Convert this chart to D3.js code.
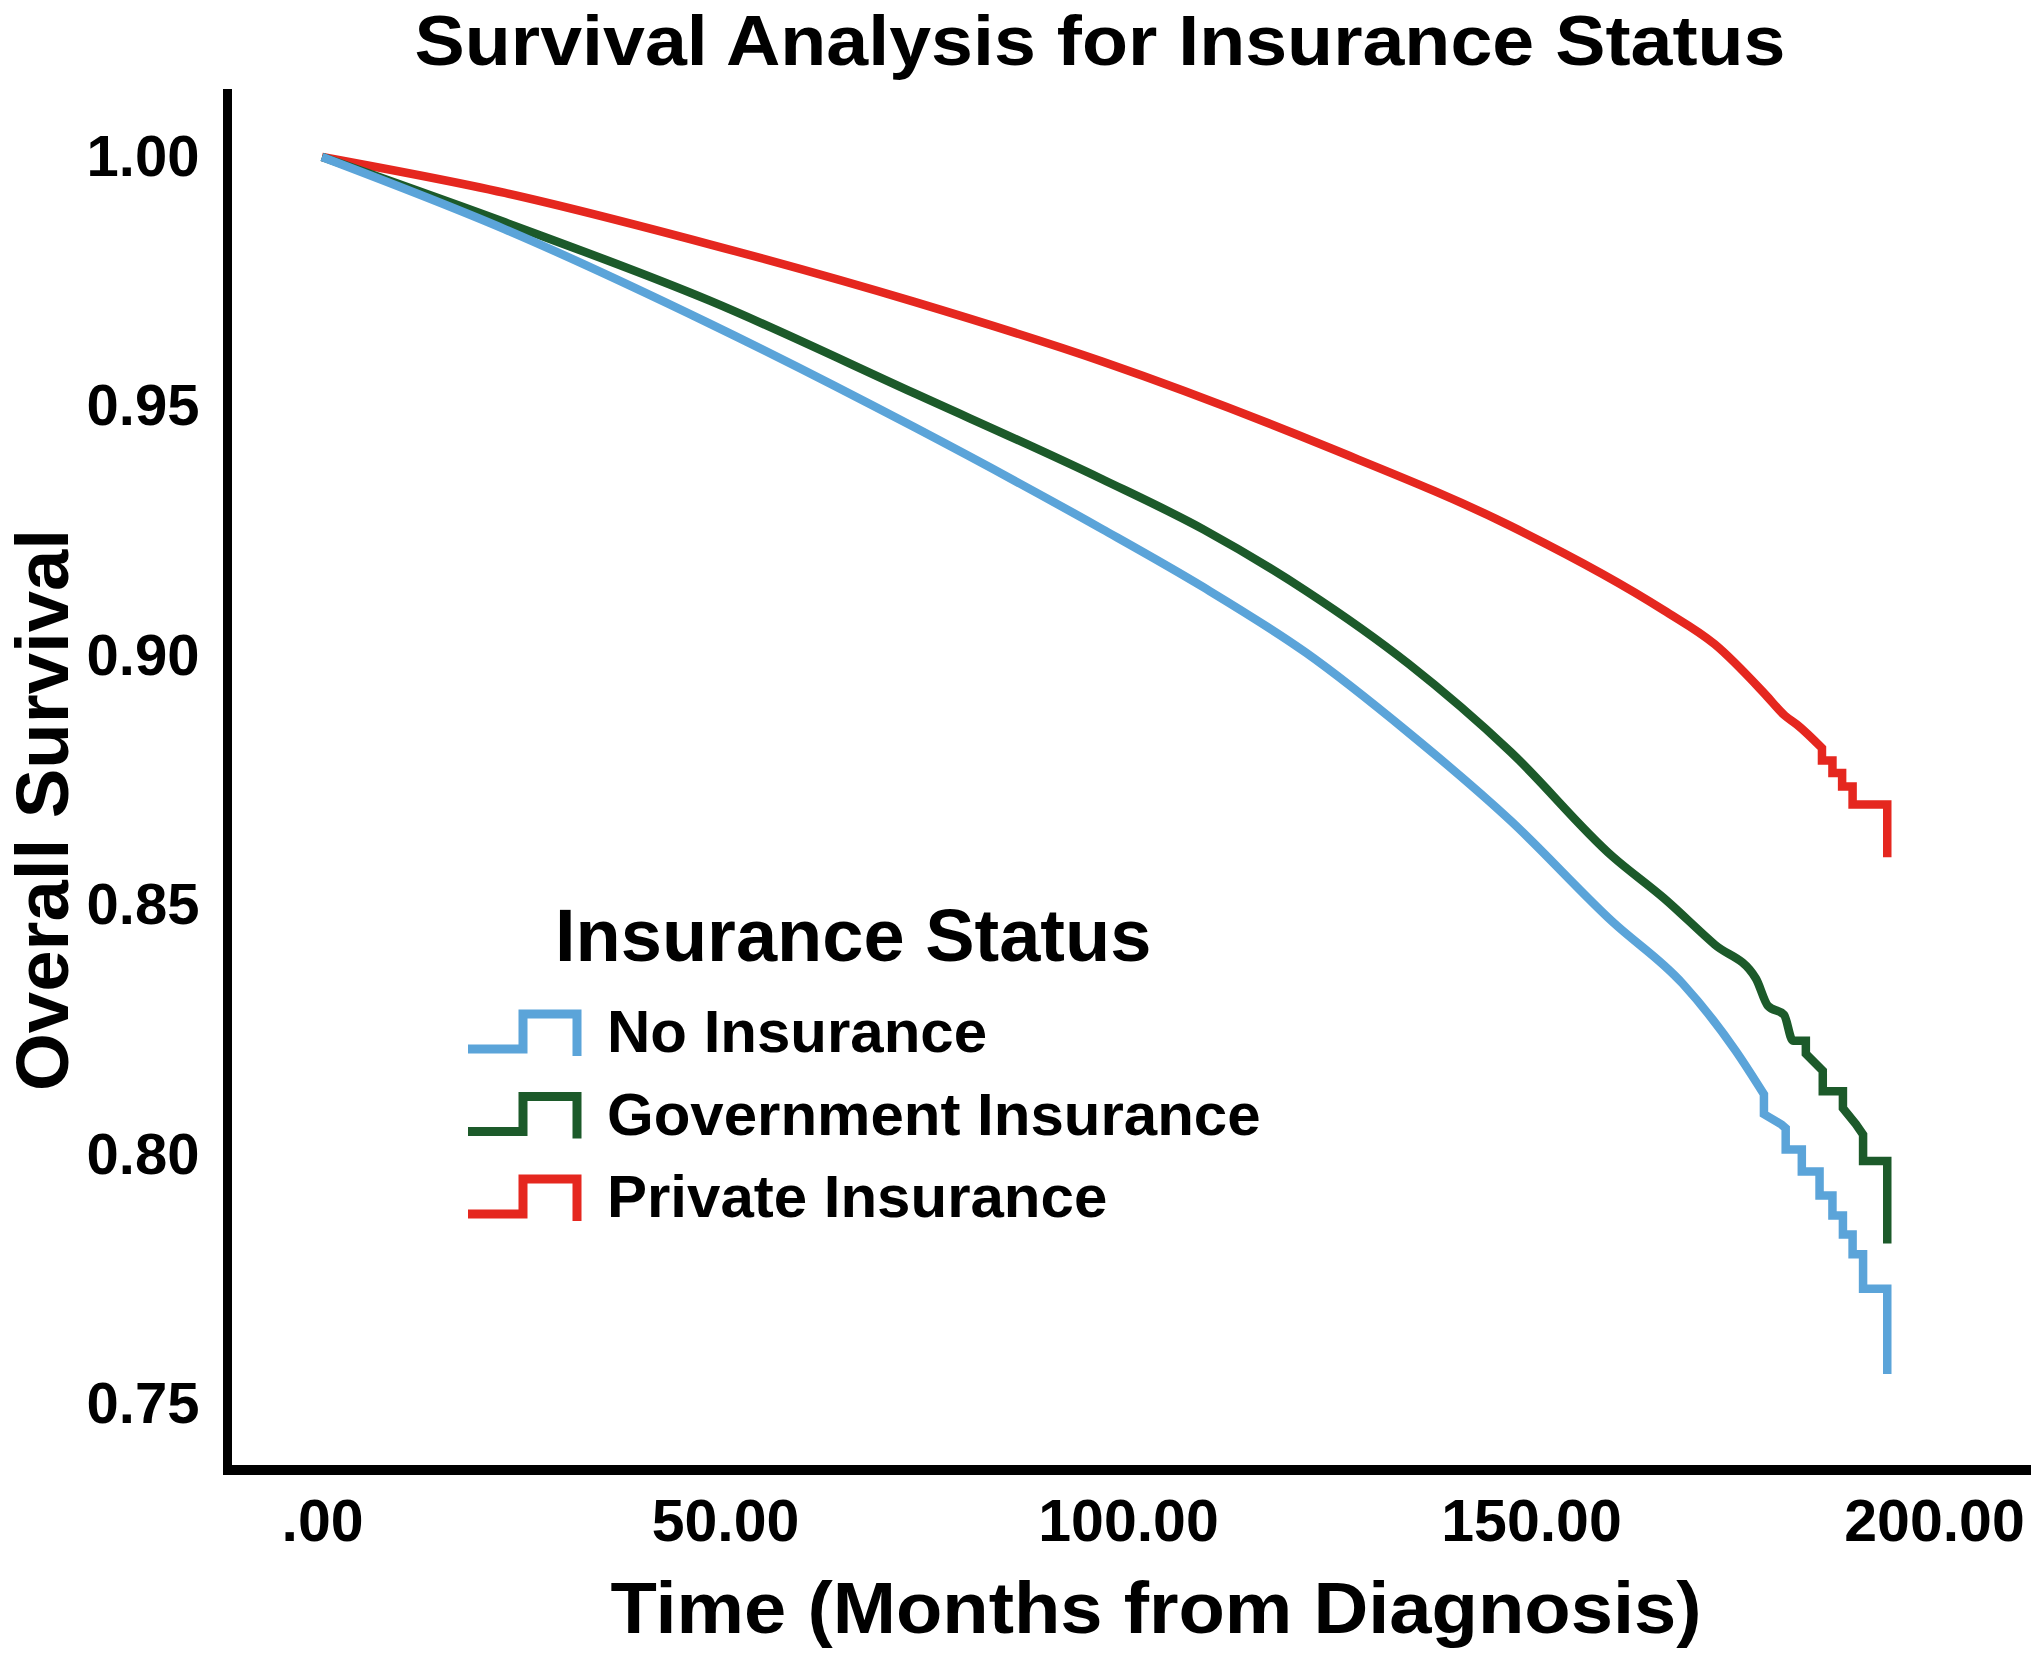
<!DOCTYPE html>
<html>
<head>
<meta charset="UTF-8">
<script src="https://d3js.org/d3.v7.min.js"></script>
<title>Survival Analysis for Insurance Status</title>
<style>
  body { margin: 0; background: #fff; }
  svg text { font-family: "Liberation Sans", Arial, Helvetica, sans-serif; font-weight: bold; fill: #000; }
</style>
</head>
<body>
<svg id="chart"></svg>
<script>

// values
var seriesNames = ["No Insurance", "Government Insurance", "Private Insurance"];

var noInsTime = [0, 22.7, 48.1, 73.4, 96.8, 109.4, 122.1, 134.8, 147.5, 160.1, 168.8, 175.4, 178.9,
                 178.9, 181.1, 181.6, 181.6, 183.6, 183.6, 185.8, 185.8, 187.4, 187.4, 188.7, 188.7,
                 189.9, 189.9, 191.2, 191.2, 194.2, 194.2];
var noInsSurv = [1, 0.9855, 0.9666, 0.9459, 0.9254, 0.9137, 0.9006, 0.8846, 0.8669, 0.8467, 0.8343, 0.8208, 0.8121,
                 0.8081, 0.8060, 0.8053, 0.8010, 0.8010, 0.7966, 0.7966, 0.7918, 0.7918, 0.7878, 0.7878, 0.7840,
                 0.7840, 0.7800, 0.7800, 0.7731, 0.7731, 0.7560];

var govTime = [0, 22.7, 48.1, 73.4, 96.8, 109.4, 122.1, 134.8, 147.5, 160.1, 166.5, 172.8, 177.9, 179.4, 181.4, 182.5, 184.1,
               184.1, 186.2, 186.2, 188.7, 188.7, 190.3, 191.2, 191.2, 194.2, 194.2];
var govSurv = [1, 0.9869, 0.9712, 0.9527, 0.9354, 0.9253, 0.9130, 0.8984, 0.8807, 0.8598, 0.8514, 0.8421, 0.8353, 0.8298, 0.8280, 0.8228, 0.8228,
               0.8202, 0.8168, 0.8127, 0.8127, 0.8093, 0.8061, 0.8040, 0.7987, 0.7987, 0.7822];

var privTime = [0, 22.7, 48.1, 73.4, 96.8, 125.3, 147.5, 166.5, 172.8, 179.1, 181.5, 183.0, 186.1,
                186.1, 187.4, 187.4, 188.6, 188.6, 189.9, 189.9, 194.2, 194.2];
var privSurv = [1, 0.9928, 0.9825, 0.9710, 0.9590, 0.9415, 0.9260, 0.9091, 0.9023, 0.8922, 0.8880, 0.8862, 0.8815,
                0.8790, 0.8790, 0.8765, 0.8765, 0.8738, 0.8738, 0.8702, 0.8702, 0.8596];

var xTicks = [0, 50, 100, 150, 200];
var yTicks = [1.00, 0.95, 0.90, 0.85, 0.80, 0.75];

var colors = ["#5ba4d9", "#1c5a2a", "#e5271f"];

var width = 2040, height = 1659;
var frame = {left: 227.5, top: 89, right: 2031, bottom: 1470};

var svg = d3.select("#chart")
    .attr("width", width)
    .attr("height", height);

var x = d3.scaleLinear().domain([0, 200]).range([322, 1934]);
var y = d3.scaleLinear().domain([0.75, 1]).range([1404, 157]);

// axes (labels only, the frame is drawn below)
var fmt = d3.format(".2f");
svg.append("g")
    .attr("transform", "translate(0," + frame.bottom + ")")
    .call(d3.axisBottom(x).tickValues(xTicks).tickSize(0).tickPadding(29)
        .tickFormat(function(d) { return fmt(d).replace(/^0\./, "."); }))
    .call(function(g) { g.select(".domain").remove(); })
    .attr("font-family", null).attr("font-size", null)
    .selectAll("text").style("font-size", "59px");

svg.append("g")
    .attr("transform", "translate(" + frame.left + ",0)")
    .call(d3.axisLeft(y).tickValues(yTicks).tickSize(0).tickPadding(28).tickFormat(fmt))
    .call(function(g) { g.select(".domain").remove(); })
    .attr("font-family", null).attr("font-size", null)
    .selectAll("text").style("font-size", "58px");

svg.append("line")
    .attr("x1", frame.left).attr("x2", frame.left)
    .attr("y1", frame.top).attr("y2", frame.bottom + 5)
    .attr("stroke", "#000").attr("stroke-width", 9);
svg.append("line")
    .attr("x1", frame.left - 4.5).attr("x2", frame.right)
    .attr("y1", frame.bottom).attr("y2", frame.bottom)
    .attr("stroke", "#000").attr("stroke-width", 10);

// curves: smooth body + stepped tail
var series = [
    {name: seriesNames[0], time: noInsTime, surv: noInsSurv, color: colors[0]},
    {name: seriesNames[1], time: govTime, surv: govSurv, color: colors[1]},
    {name: seriesNames[2], time: privTime, surv: privSurv, color: colors[2]}
];

var smooth = d3.line()
    .x(function(d) { return x(d[0]); })
    .y(function(d) { return y(d[1]); })
    .curve(d3.curveMonotoneX);
var steps = d3.line()
    .x(function(d) { return x(d[0]); })
    .y(function(d) { return y(d[1]); });

[2, 1, 0].forEach(function(i) {
    var s = series[i];
    var pts = s.time.map(function(t, j) { return [t, s.surv[j]]; });
    var cut = pts.length - 1;
    for (var j = 0; j < pts.length - 1; j++) {
        if (pts[j + 1][0] === pts[j][0]) { cut = j; break; }
    }
    svg.append("path")
        .attr("d", smooth(pts.slice(0, cut + 1)) + steps(pts.slice(cut)).replace(/^M/, "L"))
        .attr("fill", "none")
        .attr("stroke", s.color)
        .attr("stroke-width", 8.5)
        .attr("stroke-linejoin", "miter");
});

// titles
svg.append("text")
    .attr("x", 1100).attr("y", 65)
    .attr("text-anchor", "middle")
    .attr("font-size", 70)
    .attr("textLength", 1371).attr("lengthAdjust", "spacingAndGlyphs")
    .text("Survival Analysis for Insurance Status");

svg.append("text")
    .attr("x", 1156).attr("y", 1633)
    .attr("text-anchor", "middle")
    .attr("font-size", 73)
    .attr("textLength", 1091).attr("lengthAdjust", "spacingAndGlyphs")
    .text("Time (Months from Diagnosis)");

svg.append("text")
    .attr("transform", "translate(68,810) rotate(-90)")
    .attr("text-anchor", "middle")
    .attr("font-size", 75)
    .attr("textLength", 562).attr("lengthAdjust", "spacingAndGlyphs")
    .text("Overall Survival");

// legend
var legend = svg.append("g");
legend.append("text")
    .attr("x", 555).attr("y", 961)
    .attr("font-size", 74)
    .text("Insurance Status");

var rowY = d3.scalePoint().domain(seriesNames).range([1052, 1217]);

var items = legend.selectAll("g.item")
    .data(series)
    .enter().append("g").attr("class", "item");

items.append("path")
    .attr("d", function(d) {
        var b = rowY(d.name);
        return "M468," + (b - 3) + "H523V" + (b - 38) + "H577V" + (b + 4);
    })
    .attr("fill", "none")
    .attr("stroke", function(d) { return d.color; })
    .attr("stroke-width", 9);

items.append("text")
    .attr("x", 607)
    .attr("y", function(d) { return rowY(d.name); })
    .attr("font-size", 60)
    .text(function(d) { return d.name; });

</script>
</body>
</html>
